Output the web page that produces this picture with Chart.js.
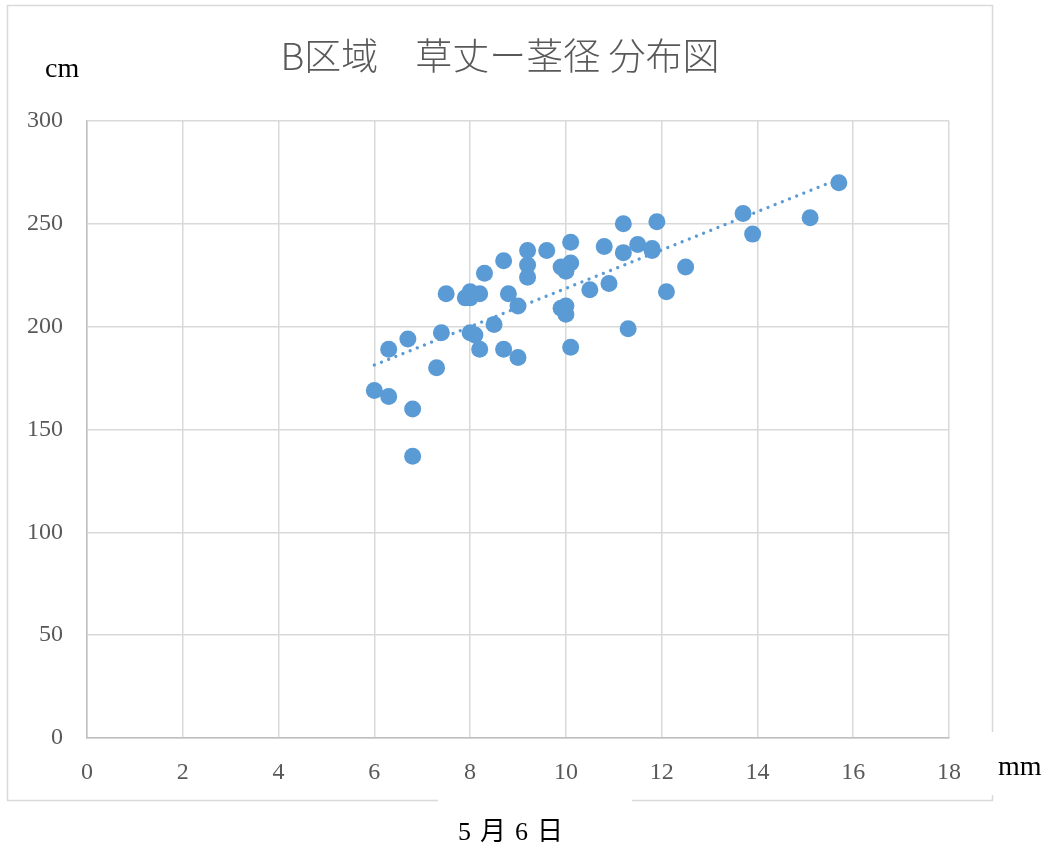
<!DOCTYPE html>
<html>
<head>
<meta charset="utf-8">
<script src="https://cdn.jsdelivr.net/npm/chart.js@4/dist/chart.umd.min.js"></script>
<style>
  html, body { margin: 0; padding: 0; background: #ffffff; }
  #wrap { width: 1054px; height: 852px; position: relative; }
</style>
</head>
<body>
<div id="wrap"><canvas id="c" width="1054" height="852"></canvas></div>
<script>
// 茎径 (mm)
const stemDiameter = [
  6.0, 6.3, 6.3, 6.7, 6.8, 6.8, 7.3, 7.4, 7.5, 7.9,
  8.0, 8.0, 8.2, 8.0, 8.1, 8.2, 8.3, 8.5, 8.7, 8.8,
  8.7, 9.0, 9.0, 9.2, 9.2, 9.2, 9.6, 9.9, 10.0, 10.1,
  10.1, 9.9, 10.0, 10.0, 10.1, 10.5, 10.8, 10.9, 11.2, 11.2,
  11.3, 11.5, 11.8, 11.8, 11.9, 12.1, 12.5, 13.7, 13.9, 15.1,
  15.7
];
// 草丈 (cm)
const plantHeight = [
  169, 189, 166, 194, 160, 137, 180, 197, 216, 214,
  217, 214, 216, 197, 196, 189, 226, 201, 232, 216,
  189, 210, 185, 237, 230, 224, 237, 229, 227, 241,
  231, 209, 210, 206, 190, 218, 239, 221, 250, 236,
  199, 240, 238, 237, 251, 217, 229, 255, 245, 253,
  270
];
const xTicks = [0, 2, 4, 6, 8, 10, 12, 14, 16, 18];
const yTicks = [0, 50, 100, 150, 200, 250, 300];

const titleText = 'B区域\u3000草丈ー茎径 分布図';
const xUnit = 'mm';
const yUnit = 'cm';
const dateLabel = '5月6日';

// scatter points
const points = stemDiameter.map((x, i) => ({ x: x, y: plantHeight[i] }));

// least-squares linear trend over the observed x range
const n = points.length;
const mx = stemDiameter.reduce((a, b) => a + b, 0) / n;
const my = plantHeight.reduce((a, b) => a + b, 0) / n;
let sxy = 0, sxx = 0;
for (let i = 0; i < n; i++) {
  sxy += (stemDiameter[i] - mx) * (plantHeight[i] - my);
  sxx += (stemDiameter[i] - mx) ** 2;
}
const slope = sxy / sxx;
const intercept = my - slope * mx;
const xMin = Math.min(...stemDiameter);
const xMax = Math.max(...stemDiameter);
const trend = [
  { x: xMin, y: intercept + slope * xMin },
  { x: xMax, y: intercept + slope * xMax }
];

const SERIES = '#5b9bd5';
const GRID = '#d9d9d9';
const AXIS = '#bfbfbf';
const TICK = '#595959';
const SERIF = "'Liberation Serif', 'DejaVu Serif', serif";
const CJK = "'Noto Sans CJK JP', 'Noto Sans CJK SC', sans-serif";

// frame around the chart and free-standing labels
const decorations = {
  id: 'decorations',
  beforeDraw(chart) {
    const ctx = chart.ctx;
    ctx.save();
    ctx.strokeStyle = GRID;
    ctx.lineWidth = 1.5;
    ctx.beginPath();
    // top, left and right edges
    ctx.moveTo(7.5, 732);
    ctx.lineTo(7.5, 5.5);
    ctx.lineTo(992.5, 5.5);
    ctx.lineTo(992.5, 732);
    // bottom edge, broken around the date label
    ctx.moveTo(7.5, 732);
    ctx.lineTo(7.5, 800.5);
    ctx.lineTo(438, 800.5);
    ctx.moveTo(632, 800.5);
    ctx.lineTo(992.5, 800.5);
    ctx.lineTo(992.5, 795);
    ctx.stroke();
    ctx.restore();
  },
  afterDraw(chart) {
    const ctx = chart.ctx;
    ctx.save();
    // title
    ctx.fillStyle = TICK;
    ctx.font = '300 37px ' + CJK;
    ctx.textAlign = 'center';
    ctx.textBaseline = 'middle';
    ctx.fillText(titleText, 500, 56);
    // unit labels
    ctx.fillStyle = '#000000';
    ctx.font = '28px ' + SERIF;
    ctx.textAlign = 'left';
    ctx.fillText(yUnit, 45, 70);
    ctx.fillText(xUnit, 998, 768);
    // date
    ctx.font = '26px ' + SERIF + ', ' + CJK;
    ctx.textAlign = 'center';
    ctx.letterSpacing = '9px';
    ctx.fillText(dateLabel, 515, 833);
    ctx.restore();
  }
};

new Chart(document.getElementById('c'), {
  type: 'scatter',
  data: {
    datasets: [
      {
        label: '草丈',
        data: points,
        backgroundColor: SERIES,
        borderColor: SERIES,
        pointRadius: 8.5,
        pointHoverRadius: 8.5,
        pointBorderWidth: 0,
        order: 2
      },
      {
        type: 'line',
        label: '線形近似',
        data: trend,
        borderColor: SERIES,
        borderWidth: 3.3,
        borderDash: [0.01, 7.7],
        borderCapStyle: 'round',
        pointRadius: 0,
        fill: false,
        tension: 0,
        order: 1
      }
    ]
  },
  plugins: [decorations],
  options: {
    responsive: false,
    animation: false,
    events: [],
    layout: { padding: { left: 0, top: 121, right: 105, bottom: 0 } },
    plugins: {
      legend: { display: false },
      title: { display: false },
      tooltip: { enabled: false }
    },
    scales: {
      x: {
        type: 'linear',
        min: 0,
        max: 18,
        afterBuildTicks(scale) { scale.ticks = xTicks.map(v => ({ value: v })); },
        afterFit(scale) { scale.height = 114; },
        grid: { color: GRID, lineWidth: 1.5, drawTicks: false },
        border: { color: AXIS, width: 1.5 },
        ticks: {
          color: TICK,
          font: { family: SERIF, size: 24 },
          padding: 20,
          maxRotation: 0
        }
      },
      y: {
        type: 'linear',
        min: 0,
        max: 300,
        afterBuildTicks(scale) { scale.ticks = yTicks.map(v => ({ value: v })); },
        afterFit(scale) { scale.width = 87; },
        grid: { color: GRID, lineWidth: 1.5, drawTicks: false },
        border: { color: AXIS, width: 1.5 },
        ticks: {
          color: TICK,
          font: { family: SERIF, size: 24 },
          padding: 24
        }
      }
    }
  }
});
</script>
</body>
</html>
